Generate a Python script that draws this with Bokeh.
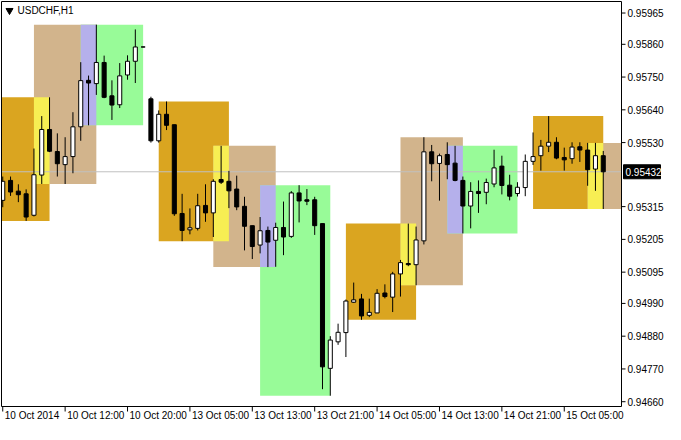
from bokeh.plotting import figure
from bokeh.models import Range1d, ColumnDataSource
from bokeh.core.properties import value
from bokeh.embed import file_html
from bokeh.resources import INLINE

# ---------------- data (USDCHF, H1) ----------------
opens = [0.95336, 0.95403, 0.95367, 0.95358, 0.95286, 0.95421, 0.95574, 0.95500, 0.95456, 0.95483,
         0.95583, 0.95739, 0.95728, 0.95799, 0.95687, 0.95657, 0.95757, 0.95803, 0.95851, 0.95677,
         0.95536, 0.95625, 0.95590, 0.95292, 0.95237, 0.95242, 0.95319, 0.95294, 0.95406, 0.95400,
         0.95374, 0.95316, 0.95251, 0.95186, 0.95235, 0.95202, 0.95245, 0.95215, 0.95361, 0.95338,
         0.95338, 0.95258, 0.94772, 0.94861, 0.94892, 0.94994, 0.95005, 0.94950, 0.94958, 0.95025,
         0.95011, 0.95089, 0.95124, 0.95120, 0.95200, 0.95499, 0.95460, 0.95490, 0.95461, 0.95403,
         0.95317, 0.95366, 0.95363, 0.95391, 0.95451, 0.95387, 0.95359, 0.95379, 0.95467, 0.95486,
         0.95518, 0.95531, 0.95480, 0.95476, 0.95516, 0.95505, 0.95441, 0.95486]
highs = [0.95416, 0.95416, 0.95390, 0.95373, 0.95510, 0.95619, 0.95682, 0.95561, 0.95548, 0.95632,
         0.95800, 0.95755, 0.95926, 0.95822, 0.95739, 0.95797, 0.95823, 0.95910, 0.95852, 0.95684,
         0.95638, 0.95668, 0.95590, 0.95358, 0.95309, 0.95358, 0.95390, 0.95407, 0.95519, 0.95435,
         0.95419, 0.95348, 0.95251, 0.95280, 0.95248, 0.95261, 0.95332, 0.95367, 0.95387, 0.95374,
         0.95348, 0.95258, 0.94880, 0.94922, 0.95003, 0.95060, 0.95022, 0.95006, 0.95038, 0.95054,
         0.95096, 0.95136, 0.95258, 0.95248, 0.95548, 0.95522, 0.95493, 0.95531, 0.95519, 0.95416,
         0.95397, 0.95403, 0.95409, 0.95506, 0.95486, 0.95422, 0.95397, 0.95490, 0.95564, 0.95539,
         0.95619, 0.95548, 0.95513, 0.95531, 0.95531, 0.95529, 0.95529, 0.95502]
lows = [0.95313, 0.95351, 0.95330, 0.95267, 0.95282, 0.95391, 0.95498, 0.95416, 0.95391, 0.95427,
        0.95536, 0.95588, 0.95690, 0.95679, 0.95606, 0.95646, 0.95741, 0.95730, 0.95850, 0.95530,
        0.95530, 0.95572, 0.95284, 0.95199, 0.95222, 0.95235, 0.95264, 0.95213, 0.95391, 0.95310,
        0.95303, 0.95168, 0.95139, 0.95158, 0.95112, 0.95113, 0.95152, 0.95210, 0.95262, 0.95320,
        0.95220, 0.94702, 0.94680, 0.94851, 0.94810, 0.94992, 0.94935, 0.94944, 0.94958, 0.95007,
        0.94961, 0.95013, 0.95115, 0.95051, 0.95188, 0.95400, 0.95335, 0.95407, 0.95400, 0.95225,
        0.95242, 0.95294, 0.95323, 0.95380, 0.95356, 0.95336, 0.95349, 0.95350, 0.95455, 0.95436,
        0.95498, 0.95474, 0.95436, 0.95459, 0.95465, 0.95385, 0.95368, 0.95307]
closes = [0.95400, 0.95364, 0.95355, 0.95280, 0.95422, 0.95574, 0.95501, 0.95459, 0.95483, 0.95583,
          0.95738, 0.95730, 0.95799, 0.95682, 0.95656, 0.95754, 0.95803, 0.95851, 0.95851, 0.95536,
          0.95625, 0.95588, 0.95291, 0.95235, 0.95244, 0.95318, 0.95294, 0.95400, 0.95397, 0.95368,
          0.95314, 0.95249, 0.95181, 0.95234, 0.95196, 0.95245, 0.95213, 0.95361, 0.95334, 0.95333,
          0.95251, 0.94777, 0.94867, 0.94893, 0.94998, 0.95002, 0.94948, 0.94960, 0.95024, 0.95013,
          0.95089, 0.95127, 0.95120, 0.95203, 0.95499, 0.95459, 0.95486, 0.95456, 0.95403, 0.95317,
          0.95366, 0.95359, 0.95396, 0.95445, 0.95386, 0.95350, 0.95380, 0.95467, 0.95483, 0.95518,
          0.95531, 0.95478, 0.95472, 0.95515, 0.95505, 0.95439, 0.95486, 0.95432]

bid = 0.95432
symbol_title = "USDCHF,H1"

# session windows in bar indices (box spans start..end, price range from bars start+1..end)
asia_start = [-3, 20, 44, 68]
asia_end = [6, 29, 53, 77]
europe_start = [4, 27, 51, 75]
europe_end = [12, 35, 59, 83]
america_start = [10, 33, 57]
america_end = [18, 42, 66]

y_ticks = [0.95965, 0.95860, 0.95750, 0.95640, 0.95530, 0.95315, 0.95205,
           0.95095, 0.94990, 0.94880, 0.94770, 0.94660]
x_tick_bars = [0, 8, 16, 24, 32, 40, 48, 56, 64, 72]
x_tick_labels = ["10 Oct 2014", "10 Oct 12:00", "10 Oct 20:00", "13 Oct 05:00", "13 Oct 13:00",
                 "13 Oct 21:00", "14 Oct 05:00", "14 Oct 13:00", "14 Oct 21:00", "15 Oct 05:00"]

# ---------------- layout / styling ----------------
FONT = "Liberation Sans"
GOLD, TAN, GREEN = "#DAA520", "#D2B48C", "#98FB98"
YELLOW, LAVENDER = "#F7EE53", "#B5B0EB"

W, H = 665, 424                 # figure size (frame fills the whole canvas)
CL, CR, CT, CB = 1, 621, 1, 406  # chart rectangle inside the canvas, px
X0, X1 = -0.16, 79.34            # bar-index range shown in the chart rectangle
Y0, Y1 = 0.946439, 0.960037      # price range shown in the chart rectangle

ppx = (X1 - X0) / (CR - CL)
ppy = (Y1 - Y0) / (CB - CT)
FX0, FX1 = X0 - CL * ppx, X1 + (W - CR) * ppx
FY0, FY1 = Y0 - (H - CB) * ppy, Y1 + CT * ppy


def dx(px):
    return px * ppx


def dy(px):
    return px * ppy


n = len(opens)
bars = list(range(n))


def session_boxes(starts, ends):
    d = dict(left=[], right=[], top=[], bottom=[])
    for s, e in zip(starts, ends):
        idx = [i for i in range(s + 1, e + 1) if 0 <= i < n]
        d["left"].append(s)
        d["right"].append(e)
        d["top"].append(max(highs[i] for i in idx))
        d["bottom"].append(min(lows[i] for i in idx))
    return d


def overlap(a, b):
    d = dict(left=[], right=[], top=[], bottom=[])
    for i in range(len(a["left"])):
        for j in range(len(b["left"])):
            l = max(a["left"][i], b["left"][j])
            r = min(a["right"][i], b["right"][j])
            t = min(a["top"][i], b["top"][j])
            bt = max(a["bottom"][i], b["bottom"][j])
            if l < r and bt < t:
                d["left"].append(l); d["right"].append(r)
                d["top"].append(t); d["bottom"].append(bt)
    return d


def clip_x(d):
    d = dict(d)
    d["left"] = [max(v, X0) for v in d["left"]]
    d["right"] = [min(v, X1) for v in d["right"]]
    return d


asia = session_boxes(asia_start, asia_end)
europe = session_boxes(europe_start, europe_end)
america = session_boxes(america_start, america_end)

p = figure(width=W, height=H, x_range=Range1d(FX0, FX1), y_range=Range1d(FY0, FY1),
           output_backend="svg", toolbar_location=None,
           x_axis_location=None, y_axis_location=None,
           min_border=0, min_border_left=0, min_border_right=0,
           min_border_top=0, min_border_bottom=0,
           background_fill_color="white", border_fill_color="white")
p.grid.visible = False
p.outline_line_color = None

# session boxes (with XOR-like overlap colours)
for d, col in [(asia, GOLD), (europe, TAN), (america, GREEN),
               (overlap(asia, europe), YELLOW), (overlap(europe, america), LAVENDER)]:
    p.quad(left="left", right="right", top="top", bottom="bottom",
           source=ColumnDataSource(clip_x(d)), fill_color=col, line_color=None)

# bid line
p.segment(x0=[X0], y0=[bid], x1=[X1], y1=[bid], line_color="#C0C0C0", line_width=1)

# candles
p.segment(x0=bars, y0=highs, x1=bars, y1=lows, line_color="black", line_width=1)
half = 0.26
body = ColumnDataSource(dict(
    left=[max(k - half, X0) for k in bars],
    right=[min(k + half, X1) for k in bars],
    top=[max(o, c) for o, c in zip(opens, closes)],
    bottom=[min(o, c) for o, c in zip(opens, closes)],
    fill=["white" if c >= o else "black" for o, c in zip(opens, closes)],
))
p.quad(left="left", right="right", top="top", bottom="bottom", fill_color="fill",
       line_color="black", line_width=1, source=body)

# chart border
p.quad(left=[X0], right=[X1], top=[Y1], bottom=[Y0], fill_color=None,
       line_color="black", line_width=1)

# price scale (right)
p.segment(x0=[X1] * len(y_ticks), y0=y_ticks, x1=[X1 + dx(4)] * len(y_ticks), y1=y_ticks,
          line_color="black", line_width=1)
p.text(x=[X1 + dx(6)] * len(y_ticks), y=y_ticks, text=[f"{v:.5f}" for v in y_ticks],
       text_font=value(FONT), text_font_size=value("10px"), text_color="black",
       text_align="left", text_baseline="middle")

# current bid marker
p.quad(left=[X1 + dx(2)], right=[X1 + dx(39)], top=[bid + dy(7)], bottom=[bid - dy(7)],
       fill_color="black", line_color="black")
p.text(x=[X1 + dx(4)], y=[bid], text=[f"{bid:.5f}"],
       text_font=value(FONT), text_font_size=value("10px"), text_color="white",
       text_align="left", text_baseline="middle")

# time scale (bottom)
p.segment(x0=x_tick_bars, y0=[Y0] * len(x_tick_bars), x1=x_tick_bars,
          y1=[Y0 - dy(5)] * len(x_tick_bars), line_color="black", line_width=1)
p.text(x=[k + dx(2) for k in x_tick_bars], y=[Y0 - dy(3)] * len(x_tick_bars), text=x_tick_labels,
       text_font=value(FONT), text_font_size=value("10px"), text_color="black",
       text_align="left", text_baseline="top")

# symbol caption
p.text(x=[X0 + dx(16)], y=[Y1 - dy(3)], text=[symbol_title],
       text_font=value(FONT), text_font_size=value("10px"), text_color="black",
       text_align="left", text_baseline="top")
p.scatter(x=[X0 + dx(8)], y=[Y1 - dy(9)], marker="inverted_triangle", size=7,
          fill_color="black", line_color="black")

open("out.html", "w").write(file_html(p, INLINE))
